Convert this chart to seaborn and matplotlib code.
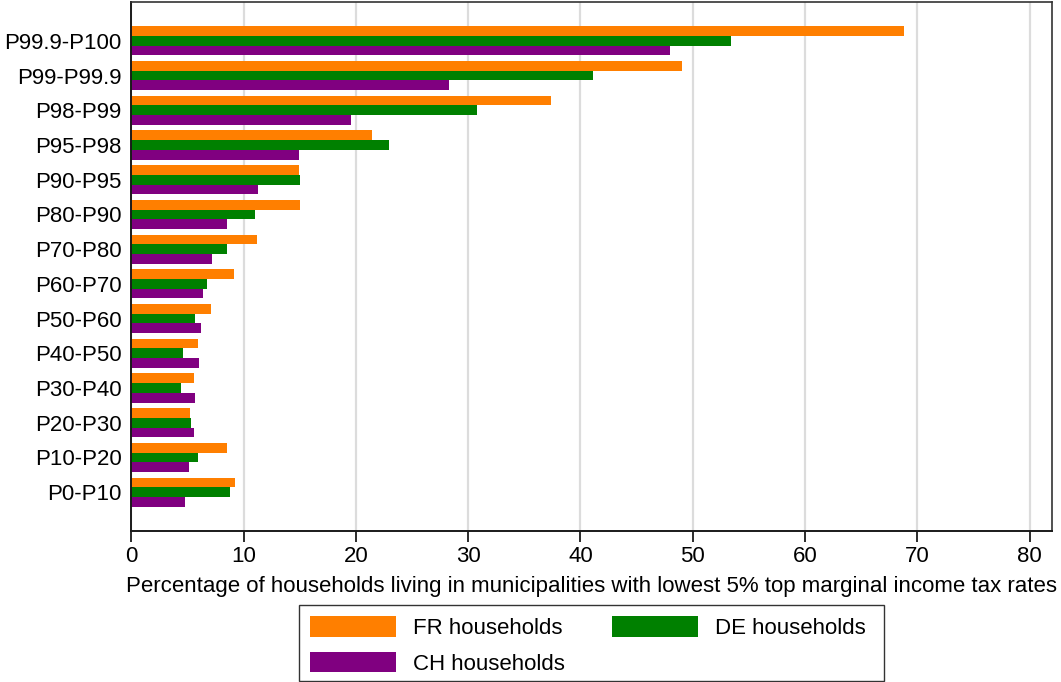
import matplotlib
matplotlib.use("Agg")
import matplotlib.pyplot as plt
import seaborn as sns
import pandas as pd
from matplotlib.patches import Patch, Rectangle

# Income groups, top to bottom
groups = ["P99.9-P100", "P99-P99.9", "P98-P99", "P95-P98", "P90-P95",
          "P80-P90", "P70-P80", "P60-P70", "P50-P60", "P40-P50",
          "P30-P40", "P20-P30", "P10-P20", "P0-P10"]

fr_values = [68.8, 49.0, 37.4, 21.4, 14.9, 15.0, 11.2, 9.1, 7.1, 5.9, 5.6, 5.2, 8.5, 9.2]
de_values = [53.4, 41.1, 30.8, 22.9, 15.0, 11.0, 8.5, 6.7, 5.7, 4.6, 4.4, 5.3, 5.9, 8.8]
ch_values = [48.0, 28.3, 19.6, 14.9, 11.3, 8.5, 7.2, 6.4, 6.2, 6.0, 5.7, 5.6, 5.1, 4.8]

series_names = ["FR households", "DE households", "CH households"]
series_colors = ["#FF7F00", "#008000", "#800080"]

df = pd.DataFrame({
    "group": groups * 3,
    "value": fr_values + de_values + ch_values,
    "series": [series_names[0]] * len(groups)
              + [series_names[1]] * len(groups)
              + [series_names[2]] * len(groups),
})

sns.set_theme(style="white")
plt.rcParams["font.family"] = ["Liberation Sans", "DejaVu Sans"]
plt.rcParams["text.color"] = "black"
plt.rcParams["axes.labelcolor"] = "black"
plt.rcParams["xtick.color"] = "black"
plt.rcParams["ytick.color"] = "black"

FS = 16
W, H = 1061, 682

fig = plt.figure(figsize=(W / 100, H / 100), dpi=100)
ax = fig.add_axes([0.1239, 0.2214, 0.9915 - 0.1239, 0.997 - 0.2214])

sns.barplot(data=df, y="group", x="value", hue="series", order=groups,
            hue_order=series_names, palette=series_colors, saturation=1,
            orient="h", width=0.84, gap=0, linewidth=0, errorbar=None,
            legend=False, ax=ax)

ax.set_xlim(0, 82)
ax.set_ylim(len(groups) - 1 + 1.12, -1.12)
ax.set_xticks(range(0, 81, 10))
ax.grid(axis="x", color="#dcdcdc", linewidth=1.6)
ax.grid(axis="y", visible=False)
ax.set_axisbelow(True)

for side in ["left", "bottom"]:
    ax.spines[side].set_color("#1a1a1a")
    ax.spines[side].set_linewidth(1.4)
for side in ["top", "right"]:
    ax.spines[side].set_color("#333333")
    ax.spines[side].set_linewidth(1.2)

ax.tick_params(axis="x", direction="out", length=8, width=1.3, color="#1a1a1a",
               labelsize=FS, pad=3, bottom=True)
ax.tick_params(axis="y", length=0, labelsize=FS, pad=7)
ax.set_ylabel("")
ax.set_xlabel("Percentage of households living in municipalities with lowest 5% top marginal income tax rates",
              fontsize=FS, labelpad=6)

# Legend box (fixed width, entries laid out row-wise: FR, DE / CH)
box_left, box_right, box_top, box_bottom = 299, 884, 605, 681
fig.add_artist(Rectangle((box_left / W, 1 - box_bottom / H),
                         (box_right - box_left) / W,
                         (box_bottom - box_top) / H, transform=fig.transFigure,
                         facecolor="white", edgecolor="#333333", linewidth=1.0,
                         zorder=1))

handles = [Patch(facecolor=c, edgecolor="none") for c in series_colors]
order = [0, 2, 1]
leg = fig.legend([handles[i] for i in order], [series_names[i] for i in order],
                 loc="upper left", bbox_to_anchor=(box_left / W, 1 - box_top / H),
                 borderaxespad=0, ncol=2, fontsize=FS,
                 handlelength=3.87, handleheight=1.04, handletextpad=0.77,
                 columnspacing=2.12, labelspacing=0.58, borderpad=0.5,
                 frameon=False)
leg.set_zorder(2)

fig.savefig("out.png", dpi=100)
